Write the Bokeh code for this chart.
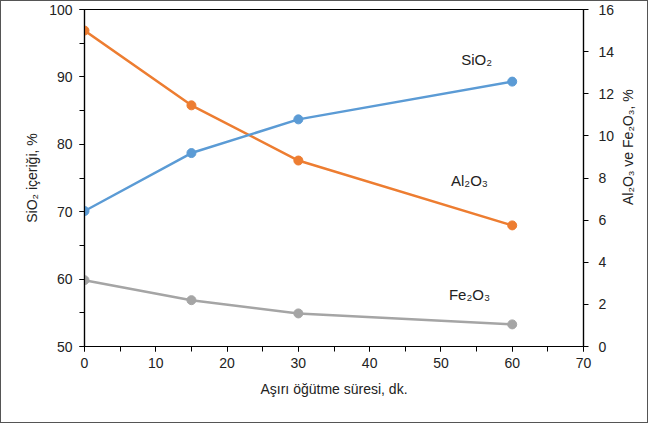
import math
from bokeh.plotting import figure
from bokeh.layouts import row
from bokeh.models import LinearAxis, Range1d, SingleIntervalTicker, Label, ColumnDataSource
from bokeh.embed import file_html
from bokeh.resources import INLINE

time_min = [0, 15, 30, 60]
sio2 = [70.1, 78.7, 83.7, 89.3]
al2o3 = [15.0, 11.45, 8.83, 5.75]
fe2o3 = [3.15, 2.2, 1.57, 1.05]

x_label = "Aşırı öğütme süresi, dk."
left_label = "SiO₂ içeriği, %"
right_label = "Al₂O₃ ve Fe₂O₃, %"

series_names = ["SiO₂", "Al₂O₃", "Fe₂O₃"]
label_x = [55.0, 54.0, 54.0]
label_y = [92.6, 7.9, 2.45]

FONT = "Liberation Sans"
C_SIO2 = "#5B9BD5"
C_AL = "#ED7D31"
C_FE = "#A5A5A5"
H = 421

p = figure(width=616, height=H, output_backend="svg", toolbar_location=None,
           x_range=Range1d(0, 70), y_range=Range1d(50, 100),
           min_border_left=83, min_border_right=34, min_border_top=8, min_border_bottom=76)
p.extra_y_ranges = {"right": Range1d(0, 16)}
p.grid.visible = False
p.outline_line_color = "black"
p.outline_line_width = 1.2
p.background_fill_color = "white"
p.border_fill_color = "white"

src = ColumnDataSource(dict(t=time_min, si=sio2, al=al2o3, fe=fe2o3))

p.line("t", "fe", source=src, y_range_name="right", color=C_FE, line_width=2.5)
p.scatter("t", "fe", source=src, y_range_name="right", color=C_FE, size=9)
p.line("t", "al", source=src, y_range_name="right", color=C_AL, line_width=2.5)
p.scatter("t", "al", source=src, y_range_name="right", color=C_AL, size=9)
p.line("t", "si", source=src, color=C_SIO2, line_width=2.5)
p.scatter("t", "si", source=src, color=C_SIO2, size=9)

ra = LinearAxis(y_range_name="right")
p.add_layout(ra, "right")

def style_axis(ax):
    ax.axis_line_color = "black"
    ax.axis_line_width = 1.2
    ax.major_tick_line_color = "black"
    ax.minor_tick_line_color = "black"
    ax.major_tick_in = 0
    ax.major_tick_out = 5
    ax.minor_tick_in = 0
    ax.minor_tick_out = 5
    ax.major_label_text_font = FONT
    ax.major_label_text_font_size = "14px"
    ax.major_label_text_color = "#222222"
    ax.axis_label_text_font = FONT
    ax.axis_label_text_font_size = "14px"
    ax.axis_label_text_font_style = "normal"
    ax.axis_label_text_color = "#222222"

xa = p.xaxis[0]
ya = p.yaxis[0]
for ax in (xa, ya, ra):
    style_axis(ax)

xa.ticker = SingleIntervalTicker(interval=10, num_minor_ticks=2)
ya.ticker = SingleIntervalTicker(interval=10, num_minor_ticks=2)
ra.ticker = SingleIntervalTicker(interval=2, num_minor_ticks=0)
xa.axis_label = x_label
ya.axis_label = left_label
xa.major_label_standoff = 6
ya.major_label_standoff = 7
ra.major_label_standoff = 10
xa.axis_label_standoff = 10
ya.axis_label_standoff = 6

for name, lx, ly, rng in zip(series_names, label_x, label_y, ["default", "right", "right"]):
    kw = {} if rng == "default" else {"y_range_name": rng}
    p.add_layout(Label(x=lx, y=ly, text=name, text_align="center", text_baseline="middle",
                       text_font=FONT, text_font_size="15px", text_color="#222222", **kw))

# narrow strip holding the right-hand axis title, reading bottom-to-top
p2 = figure(width=30, height=H, output_backend="svg", toolbar_location=None,
            x_range=Range1d(0, 30), y_range=Range1d(0, H),
            x_axis_location=None, y_axis_location=None, min_border=0)
p2.grid.visible = False
p2.outline_line_color = None
p2.background_fill_color = "white"
p2.border_fill_color = "white"
p2.add_layout(Label(x=10, y=249, text=right_label, angle=math.pi / 2,
                    text_align="center", text_baseline="middle", text_font=FONT,
                    text_font_size="14px", text_color="#222222"))

layout = row(p, p2, spacing=0)
layout.styles = {"border": "1px solid #555555"}

open("out.html", "w").write(file_html(layout, INLINE))
